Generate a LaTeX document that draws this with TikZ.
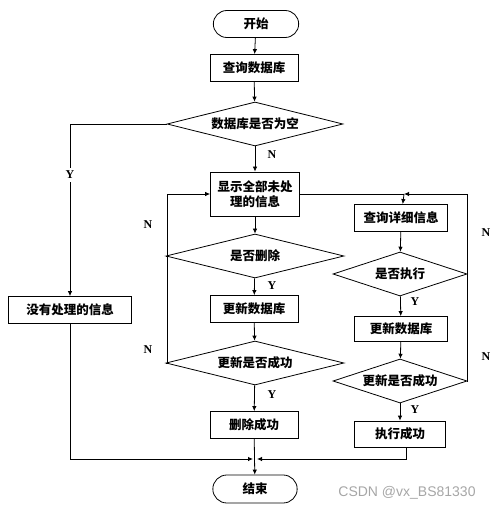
\documentclass[tikz,border=0pt]{standalone}
\usepackage{fontspec}
\setmainfont{Liberation Serif}
\newfontfamily\cjk{Noto Sans CJK SC}
\newfontfamily\wmfont{Liberation Sans}
\usetikzlibrary{arrows.meta, positioning, shapes.geometric, shapes.misc}

\begin{document}
\begin{tikzpicture}[x=1pt, y=-1pt, line width=0.8pt,
    >={Latex[length=5pt,width=4.5pt]},
    term/.style={draw, rounded rectangle, minimum width=92pt, minimum height=27pt, font=\cjk\bfseries\fontsize{12.5}{15}\selectfont},
    proc/.style={draw, rectangle, minimum width=88pt, minimum height=27pt, align=center, font=\cjk\bfseries\fontsize{12.5}{15}\selectfont},
    dec/.style={draw, diamond, inner sep=0pt, shape aspect=4, minimum width=178pt, minimum height=44pt, font=\cjk\bfseries\fontsize{12.5}{15}\selectfont},
    yn/.style={font=\bfseries\fontsize{12}{14}\selectfont, inner sep=1pt}
]
\useasboundingbox (0,0) rectangle (497,510);

% Main column
\node[term] (start) at (256,24) {开始};
\node[proc] (query) at (254,68) {查询数据库};
\node[dec, minimum width=176pt] (isempty) at (255,124) {数据库是否为空};
\node[proc, minimum width=89pt, minimum height=44pt, inner sep=2pt] (showall) at (255,194) {显示全部未处\\理的信息};
\node[dec] (isdel) at (255,256) {是否删除};
\node[proc] (updl) at (254,309) {更新数据库};
\node[dec] (okl) at (255,363) {更新是否成功};
\node[proc] (delok) at (254,425) {删除成功};
\node[term, minimum width=91pt, minimum height=28pt] (stop) at (255,489) {结束};

% Left branch
\node[proc, minimum width=123pt] (nothing) at (70,310) {没有处理的信息};

% Right column
\node[proc, minimum width=93pt] (detail) at (401,218) {查询详细信息};
\node[dec, shape aspect=3, minimum width=134pt] (isrun) at (400,274) {是否执行};
\node[proc, minimum width=93pt, minimum height=25pt] (updr) at (401,329) {更新数据库};
\node[dec, shape aspect=3, minimum width=134pt] (okr) at (400,381) {更新是否成功};
\node[proc, minimum width=91pt, minimum height=26pt] (runok) at (400,434) {执行成功};

% Helper points
\coordinate (jr) at (404,194);
\coordinate (mrg) at (255,459);
\coordinate (lx) at (167,0);
\coordinate (rx) at (467,0);

% Main flow
\draw[->] (start) -- (query);
\draw[->] (query) -- (isempty);
\draw[->] (isempty) -- (showall);
\node[yn] at (272,155) {N};
\draw[->] (showall) -- (isdel);
\draw[->] (isdel) -- (updl);
\node[yn] at (272,286) {Y};
\draw[->] (updl) -- (okl);
\draw[->] (okl) -- (delok);
\draw[->] (delok) -- (stop);
\node[yn] at (272,395) {Y};

% Empty database
\draw[->] (isempty.west) -| (nothing.north);
\node[yn, fill=white, inner sep=3pt] at (70,175) {Y};
\draw[->, shorten >=2pt] (nothing.south) |- (mrg);

% Left loops
\draw[->] (isdel.west) -- (isdel.west -| lx) -- (showall.west -| lx) -- (showall.west);
\draw (okl.west) -- (okl.west -| lx) -- (isdel.west -| lx);
\node[yn] at (148,225) {N};
\node[yn] at (148,350) {N};

% Right column flow
\draw (showall.east) -- (jr);
\draw[->] (jr) -- (detail);
\draw[->] (detail) -- (isrun);
\draw[->] (isrun) -- (updr);
\node[yn] at (415,302) {Y};
\draw[->] (updr) -- (okr);
\draw[->] (okr) -- (runok);
\node[yn] at (415,410) {Y};
\draw[->, shorten >=2pt] (runok.south -| 406,0) |- (mrg);

% Right loops
\draw[->] (isrun.east) -- (isrun.east -| rx) -- (jr -| rx) -- (jr);
\draw (okr.east) -- (okr.east -| rx) -- (isrun.east -| rx);
\node[yn] at (486,233) {N};
\node[yn] at (486,357) {N};

% Watermark
\node[text=gray!70, font=\wmfont\fontsize{14}{16}\selectfont] (mark) at (407,493) {CSDN @vx\_BS81330};

\end{tikzpicture}
\end{document}
